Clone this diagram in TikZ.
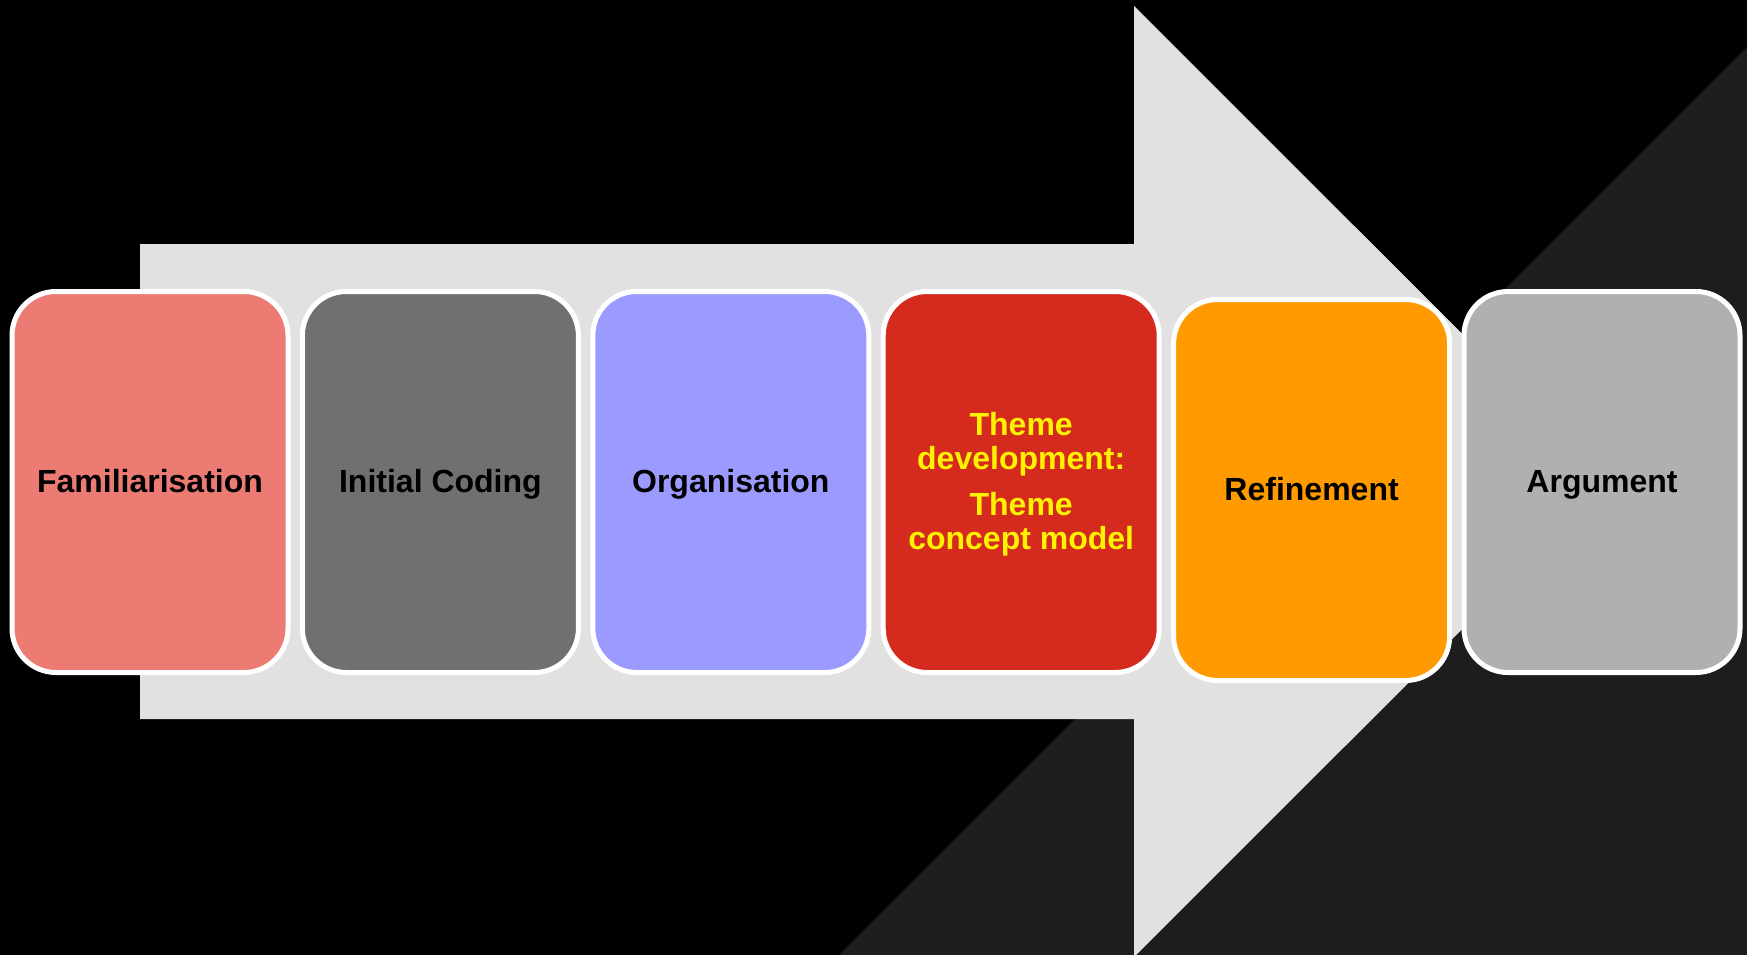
\documentclass[tikz,border=0pt]{standalone}
\usepackage{fontspec}
\setmainfont{Liberation Sans}
\usetikzlibrary{calc}
\definecolor{famcol}{HTML}{EC7B74}
\definecolor{codcol}{HTML}{707070}
\definecolor{orgcol}{HTML}{9B9BFF}
\definecolor{themecol}{HTML}{D52B1E}
\definecolor{refcol}{HTML}{FF9B00}
\definecolor{argcol}{HTML}{B0B0B0}
\definecolor{arrowcol}{HTML}{E1E1E1}
\definecolor{shadecol}{HTML}{1D1D1D}
\tikzset{
	phase/.style={draw=white, line width=5pt, rounded corners=44pt, minimum width=276pt, minimum height=381pt,
		inner sep=0pt, align=center, text height=28pt, text depth=7pt, font=\bfseries\fontsize{32}{34}\selectfont}
}

\begin{document}
\begin{tikzpicture}[x=1pt, y=-1pt]
			%%%%% START %%%%%
			\useasboundingbox[fill=black] (0, 0) rectangle (1747, 955);
			
			\fill[shadecol] (1747, 47) -- (1747, 955) -- (839, 955) -- cycle;
			
			\fill[arrowcol] (140, 244) -- (1134, 244) -- (1134, 6) -- (1610, 481.5) -- (1134, 957) -- (1134, 719) -- (140, 719) -- cycle;
			
			\node[phase, fill=famcol] (fam) at (150, 482) {Familiarisation};
			\node[phase, fill=codcol] (cod) at (440.4, 482) {Initial Coding};
			\node[phase, fill=orgcol] (org) at (730.8, 482) {Organisation};
			\node[phase, fill=themecol, text=yellow, text height=, text depth=2pt] (theme) at (1021.2, 482) {Theme\\development:\\[12pt]Theme\\concept model};
			\node[phase, fill=refcol] (ref) at (1311.6, 490) {Refinement};
			\node[phase, fill=argcol] (arg) at (1602, 482) {Argument};
			%%%%% END %%%%%
\end{tikzpicture}
\end{document}
